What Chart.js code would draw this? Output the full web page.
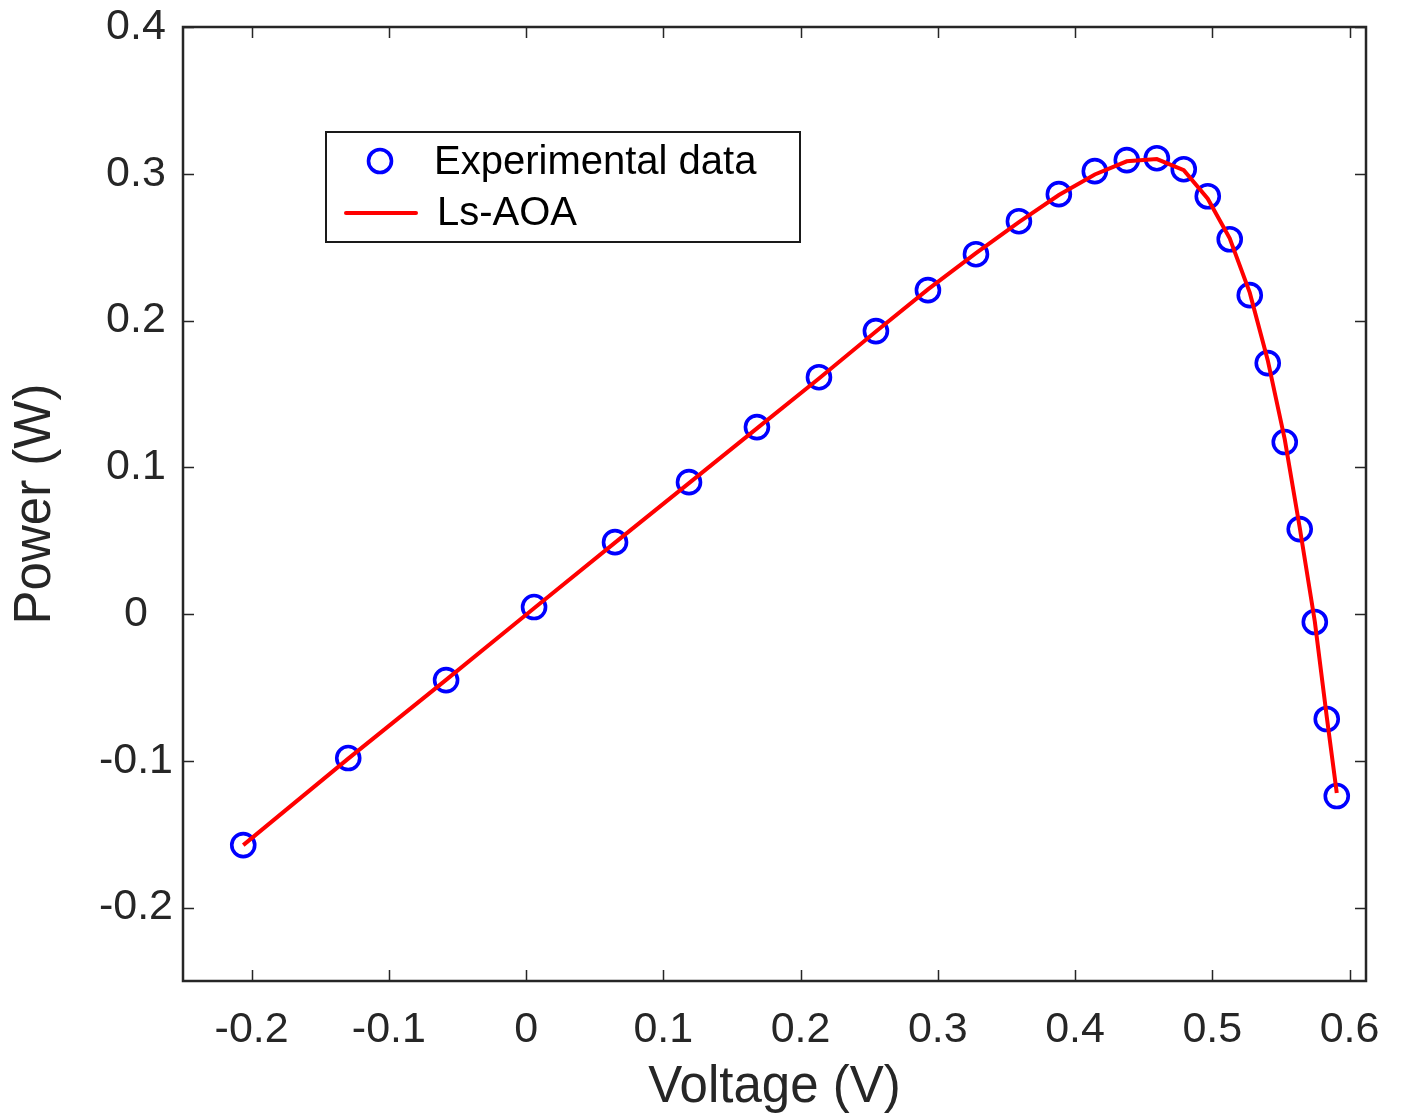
<!DOCTYPE html>
<html>
<head>
<meta charset="utf-8">
<script src="https://cdn.jsdelivr.net/npm/chart.js@4/dist/chart.umd.min.js"></script>
<style>
  html, body { margin: 0; padding: 0; background: #ffffff; }
  #wrap { width: 1403px; height: 1120px; position: relative; }
</style>
</head>
<body>
<div id="wrap"><canvas id="c" width="1403" height="1120"></canvas></div>
<script>
// ---- data ----
const voltage = [-0.2061, -0.1296, -0.0583, 0.0058, 0.0648, 0.1187, 0.1682, 0.2134, 0.2549, 0.2928,
                 0.3278, 0.3591, 0.3882, 0.4144, 0.4377, 0.4596, 0.4792, 0.4967, 0.5127, 0.5273,
                 0.5404, 0.5528, 0.5637, 0.5747, 0.5834, 0.5907];
const powerExperimental = [-0.1574, -0.0981, -0.0450, 0.0048, 0.0490, 0.0899, 0.1274, 0.1614, 0.1928, 0.2207,
                           0.2452, 0.2677, 0.2861, 0.3018, 0.3093, 0.3106, 0.3031, 0.2847, 0.2554, 0.2173,
                           0.1710, 0.1172, 0.0579, -0.0054, -0.0715, -0.1240];
const powerLsAOA = [-0.1574, -0.0985, -0.0448, 0.0040, 0.0487, 0.0892, 0.1265, 0.1605, 0.1925, 0.2212,
                    0.2459, 0.2670, 0.2855, 0.2995, 0.3085, 0.3100, 0.3025, 0.2830, 0.2560, 0.2190,
                    0.1730, 0.1190, 0.0590, -0.0050, -0.0700, -0.1219];
const xTickValues = [-0.2, -0.1, 0, 0.1, 0.2, 0.3, 0.4, 0.5, 0.6];
const yTickValues = [-0.2, -0.1, 0, 0.1, 0.2, 0.3, 0.4];
const seriesNames = ['Experimental data', 'Ls-AOA'];
const axisTitles = { x: 'Voltage (V)', y: 'Power (W)' };

const FONT = "'Liberation Sans', Arial, Helvetica, sans-serif";
const AXIS_COLOR = '#262626';

const expPoints = voltage.map((v, i) => ({ x: v, y: powerExperimental[i] }));
const fitPoints = voltage.map((v, i) => ({ x: v, y: powerLsAOA[i] }));

function fmt(v) {
  const r = Math.round(v * 10) / 10;
  return r === 0 ? '0' : String(r);
}

// MATLAB-like box with inward ticks on all four sides
const boxPlugin = {
  id: 'matlabBox',
  afterDraw(chart) {
    const { ctx, chartArea: a, scales } = chart;
    ctx.save();
    ctx.strokeStyle = AXIS_COLOR;
    ctx.lineWidth = 1.5;
    const tl = 11;
    ctx.beginPath();
    scales.x.ticks.forEach(t => {
      const px = Math.round(scales.x.getPixelForValue(t.value)) + 0.5;
      ctx.moveTo(px, a.bottom); ctx.lineTo(px, a.bottom - tl);
      ctx.moveTo(px, a.top); ctx.lineTo(px, a.top + tl);
    });
    scales.y.ticks.forEach(t => {
      const py = Math.round(scales.y.getPixelForValue(t.value)) + 0.5;
      ctx.moveTo(a.left, py); ctx.lineTo(a.left + tl, py);
      ctx.moveTo(a.right, py); ctx.lineTo(a.right - tl, py);
    });
    ctx.stroke();
    ctx.lineWidth = 2.5;
    ctx.strokeRect(a.left, a.top, a.right - a.left, a.bottom - a.top);
    ctx.restore();
  }
};

// Legend box placed inside the axes, as in the reference
const legendPlugin = {
  id: 'insideLegend',
  afterDraw(chart) {
    const { ctx } = chart;
    const ds = chart.data.datasets;
    const fitDs = ds.find(d => d.label === seriesNames[1]);
    const expDs = ds.find(d => d.label === seriesNames[0]);
    ctx.save();
    ctx.fillStyle = '#ffffff';
    ctx.fillRect(326, 132, 474, 110);
    ctx.strokeStyle = '#1a1a1a';
    ctx.lineWidth = 2;
    ctx.strokeRect(326, 132, 474, 110);
    // marker
    ctx.beginPath();
    ctx.arc(380, 161, expDs.pointRadius, 0, Math.PI * 2);
    ctx.strokeStyle = expDs.borderColor;
    ctx.lineWidth = expDs.borderWidth;
    ctx.stroke();
    // line
    ctx.beginPath();
    ctx.moveTo(346, 213); ctx.lineTo(416, 213);
    ctx.strokeStyle = fitDs.borderColor;
    ctx.lineWidth = fitDs.borderWidth;
    ctx.lineCap = 'round';
    ctx.stroke();
    ctx.fillStyle = '#000000';
    ctx.font = '40px ' + FONT;
    ctx.textBaseline = 'middle';
    ctx.textAlign = 'left';
    ctx.fillText(seriesNames[0], 434, 163);
    ctx.fillText(seriesNames[1], 437, 214);
    ctx.restore();
  }
};

new Chart(document.getElementById('c'), {
  type: 'scatter',
  data: {
    datasets: [
      {
        label: seriesNames[1],
        data: fitPoints,
        showLine: true,
        borderColor: '#ff0000',
        borderWidth: 4,
        pointRadius: 0,
        tension: 0,
        fill: false,
        order: 0
      },
      {
        label: seriesNames[0],
        data: expPoints,
        showLine: false,
        borderColor: '#0000ff',
        backgroundColor: 'rgba(0,0,0,0)',
        borderWidth: 3.6,
        pointRadius: 11.5,
        pointHoverRadius: 11.5,
        order: 1
      }
    ]
  },
  options: {
    responsive: false,
    animation: false,
    events: [],
    layout: { padding: { top: 27, right: 37, left: 0, bottom: 0 } },
    plugins: {
      legend: { display: false },
      tooltip: { enabled: false },
      title: { display: false }
    },
    scales: {
      x: {
        type: 'linear',
        min: -0.25,
        max: 0.612,
        afterBuildTicks(scale) { scale.ticks = xTickValues.map(v => ({ value: v })); },
        afterFit(scale) { scale.height = 139; scale.paddingLeft = 0; scale.paddingRight = 0; },
        grid: { display: false, drawTicks: false },
        border: { display: false },
        ticks: {
          color: AXIS_COLOR,
          font: { family: FONT, size: 43 },
          padding: 23,
          maxRotation: 0,
          autoSkip: false,
          callback: v => fmt(v)
        },
        title: {
          display: true,
          text: axisTitles.x,
          color: AXIS_COLOR,
          font: { family: FONT, size: 51 },
          padding: { top: 0, bottom: 1 }
        }
      },
      y: {
        type: 'linear',
        min: -0.25,
        max: 0.4,
        afterBuildTicks(scale) { scale.ticks = yTickValues.map(v => ({ value: v })); },
        afterFit(scale) { scale.width = 183; scale.paddingTop = 0; scale.paddingBottom = 0; },
        grid: { display: false, drawTicks: false },
        border: { display: false },
        ticks: {
          color: AXIS_COLOR,
          font: { family: FONT, size: 43 },
          padding: 10,
          crossAlign: 'center',
          autoSkip: false,
          callback: v => fmt(v)
        },
        title: {
          display: true,
          text: axisTitles.y,
          color: AXIS_COLOR,
          font: { family: FONT, size: 51 },
          padding: { top: 5, bottom: 0 }
        }
      }
    }
  },
  plugins: [boxPlugin, legendPlugin]
});
</script>
</body>
</html>
